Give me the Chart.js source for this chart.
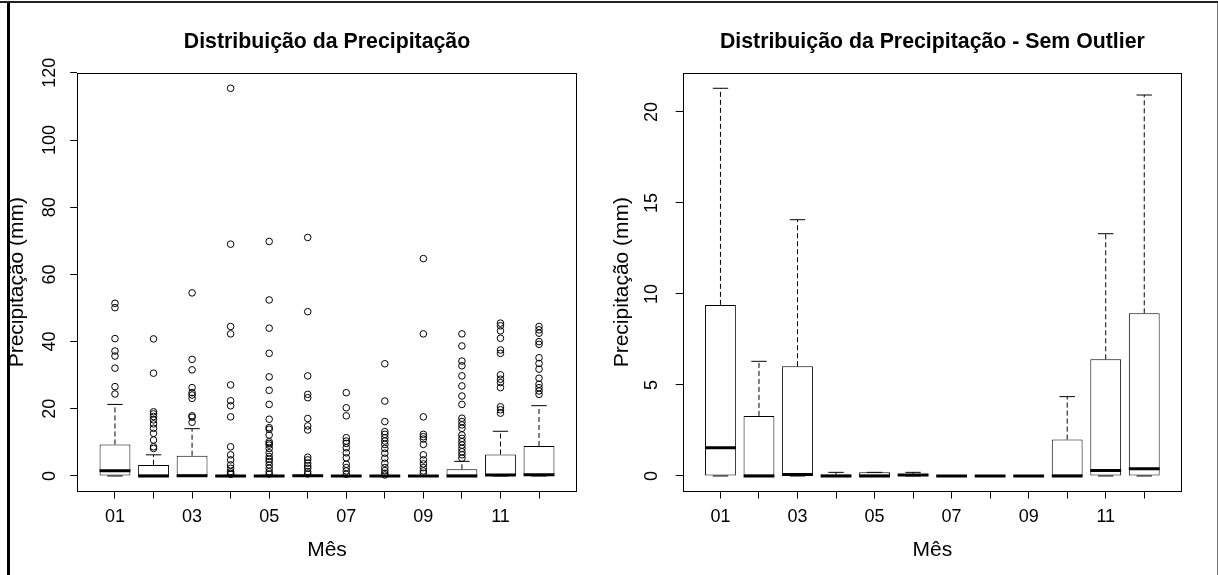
<!DOCTYPE html>
<html lang="pt-BR">
<head>
<meta charset="utf-8">
<title>Distribuição da Precipitação</title>
<script src="https://cdn.jsdelivr.net/npm/chart.js@4.4.1/dist/chart.umd.min.js"></script>
<style>
  html, body { margin: 0; padding: 0; background: #fff; }
  #wrap { position: relative; width: 1218px; height: 575px; overflow: hidden; }
  #wrap canvas { position: absolute; top: 0; }
  #boxAll { left: 0; }
  #boxClean { left: 609px; }
  #frame {
    position: absolute; left: 7px; top: 1px; width: 1207px; height: 600px;
    border-left: 3px solid #000; border-right: 1px solid #777;
    pointer-events: none;
  }
  #topline { position: absolute; left: 0; top: 1px; width: 1218px; height: 2px; background: #222; }
</style>
</head>
<body>
<div id="wrap">
  <canvas id="boxAll" width="609" height="575"></canvas>
  <canvas id="boxClean" width="609" height="575"></canvas>
  <div id="frame"></div>
  <div id="topline"></div>
</div>
<script>
// monthly precipitation boxplots (mm)
const months = ['01', '02', '03', '04', '05', '06', '07', '08', '09', '10', '11', '12'];
const xTickLabels = ['01', '', '03', '', '05', '', '07', '', '09', '', '11', ''];
const yTicksAll = [0, 20, 40, 60, 80, 100, 120];
const yTicksClean = [0, 5, 10, 15, 20];

const lowerWhisker = [0, 0, 0, 0, 0, 0, 0, 0, 0, 0, 0, 0];
const lowerHinge   = [0, 0, 0, 0, 0, 0, 0, 0, 0, 0, 0, 0];
const medians      = [1.55, 0, 0.08, 0, 0, 0.05, 0, 0, 0, 0, 0.3, 0.4];
const upperHinge   = [9.4, 3.3, 6.03, 0.08, 0.2, 0.1, 0, 0, 0, 2.0, 6.41, 8.94];
const upperWhisker = [21.3, 6.3, 14.08, 0.2, 0.2, 0.2, 0, 0, 0, 4.36, 13.31, 20.93];

const outliers = [
  [51.4, 50.1, 40.9, 37.2, 35.7, 32.1, 26.6, 24.4],
  [40.8, 30.6, 19.1, 18.5, 17.7, 16.7, 15.5, 14.2, 12.7, 10.7, 8.7, 8.2],
  [54.5, 34.7, 31.6, 26.3, 24.8, 24.1, 23.1, 17.9, 17.5, 16.0],
  [115.4, 69.0, 44.5, 42.3, 27.1, 22.4, 20.9, 17.6, 8.7, 6.3, 4.8, 3.3, 2.3, 1.3, 0.8, 0.5],
  [69.8, 52.4, 44.0, 36.5, 29.5, 25.5, 21.3, 16.9, 14.4, 13.9, 12.2, 10.2, 9.7, 9.2, 8.2, 6.9, 5.8, 5.0, 4.3, 3.3, 2.3, 1.3, 0.6],
  [71.0, 48.9, 29.8, 24.3, 23.3, 17.1, 14.9, 13.7, 5.6, 4.8, 3.8, 3.0, 2.3, 1.3, 0.6],
  [24.8, 20.3, 17.9, 11.4, 10.4, 9.7, 8.4, 6.9, 5.4, 3.5, 2.5, 1.5, 0.5],
  [33.4, 22.3, 16.2, 13.2, 12.4, 11.4, 10.4, 9.4, 8.2, 6.8, 5.3, 3.8, 2.5, 1.6, 0.8, 0.3],
  [64.7, 42.3, 17.6, 12.4, 11.7, 11.0, 9.4, 6.3, 4.8, 3.6, 2.5, 1.5, 0.8],
  [42.3, 38.7, 34.2, 32.8, 29.8, 26.8, 23.8, 21.3, 17.2, 16.2, 15.2, 14.2, 12.2, 11.2, 10.2, 9.2, 8.2, 7.2, 6.3, 5.3],
  [45.5, 44.7, 43.2, 41.0, 37.5, 36.5, 30.1, 28.8, 27.8, 26.3, 20.6, 19.7, 18.7],
  [44.5, 43.5, 42.5, 40.0, 39.2, 35.2, 33.5, 31.8, 29.1, 27.3, 26.3, 25.3, 24.3]
];

Chart.defaults.font.family = "'Liberation Sans', Arial, sans-serif";
Chart.defaults.color = '#000';

const positions = months.map((m, i) => i + 1);

// half the width (px) of a box of relative width `frac` on the x scale
function halfWidth(chart, frac) {
  const x = chart.scales.x;
  return Math.abs(x.getPixelForValue(1 + frac / 2) - x.getPixelForValue(1));
}

// box outline around the plotting region
const plotFrame = {
  id: 'plotFrame',
  afterDatasetsDraw(chart) {
    const { ctx, chartArea: a } = chart;
    ctx.save();
    ctx.strokeStyle = '#000';
    ctx.lineWidth = 1;
    const l = Math.round(a.left) + 0.5, t = Math.round(a.top) + 0.5;
    const r = Math.round(a.right) - 0.5, b = Math.round(a.bottom) - 0.5;
    ctx.strokeRect(l, t, r - l, b - t);
    ctx.restore();
  }
};

function buildDatasets(showOutliers) {
  const sets = [];
  // medians
  sets.push({
    type: 'scatter', order: 0,
    data: positions.map((x, i) => ({ x, y: medians[i] })),
    pointStyle: 'line', pointBorderColor: '#000', pointBorderWidth: 3,
    pointRadius: c => halfWidth(c.chart, 0.8)
  });
  // whisker caps
  sets.push({
    type: 'scatter', order: 1,
    data: positions.flatMap((x, i) => [{ x, y: upperWhisker[i] }, { x, y: lowerWhisker[i] }]),
    pointStyle: 'line', pointBorderColor: '#000', pointBorderWidth: 1,
    pointRadius: c => halfWidth(c.chart, 0.4)
  });
  // dashed whiskers
  sets.push({
    type: 'line', order: 2,
    data: positions.flatMap((x, i) => [
      { x, y: upperHinge[i] }, { x, y: upperWhisker[i] }, { x, y: null },
      { x, y: lowerHinge[i] }, { x, y: lowerWhisker[i] }, { x, y: null }
    ]),
    borderColor: '#000', borderWidth: 1, borderDash: [5, 3],
    pointRadius: 0, spanGaps: false, fill: false
  });
  if (showOutliers) {
    sets.push({
      type: 'scatter', order: 3,
      data: positions.flatMap((x, i) => outliers[i].map(v => ({ x, y: v }))),
      pointStyle: 'circle', pointRadius: 3.3, pointBorderWidth: 1,
      pointBorderColor: '#000', pointBackgroundColor: 'rgba(0,0,0,0)'
    });
  }
  // boxes (lower to upper hinge)
  sets.push({
    type: 'bar', order: 4,
    data: positions.map((x, i) => ({ x, y: [lowerHinge[i], upperHinge[i]] })),
    backgroundColor: '#fff', borderColor: '#000', borderWidth: 1,
    borderSkipped: false, barPercentage: 0.8, categoryPercentage: 1
  });
  return sets;
}

function makeChart(id, opts) {
  const yRange = opts.dataMax;
  const yPad = 0.04 * yRange;
  return new Chart(document.getElementById(id), {
    type: 'bar',
    data: { datasets: buildDatasets(opts.showOutliers) },
    plugins: [plotFrame],
    options: {
      responsive: false,
      animation: false,
      events: [],
      layout: { padding: { left: 0, right: opts.padRight, top: 0, bottom: 0 } },
      plugins: {
        legend: { display: false },
        tooltip: { enabled: false },
        title: {
          display: true, text: opts.title, fullSize: false, color: '#000',
          font: { size: 21.3, weight: 'bold' },
          padding: { top: 29.2, bottom: 18 }
        }
      },
      scales: {
        x: {
          type: 'linear', min: 0.02, max: 12.98, offset: false,
          afterBuildTicks: s => { s.ticks = positions.map(v => ({ value: v })); },
          afterFit: s => { s.height = 83.5; },
          grid: { drawOnChartArea: false, drawTicks: true, tickLength: 7, tickColor: '#000', offset: false },
          border: { display: false },
          ticks: {
            autoSkip: false, maxRotation: 0, padding: 8, font: { size: 18 },
            callback: (v, i) => xTickLabels[i]
          },
          title: {
            display: true, text: 'Mês', font: { size: 21, lineHeight: 1 },
            padding: { top: 0, bottom: 14.5 }
          }
        },
        y: {
          type: 'linear', min: -yPad, max: yRange + yPad,
          afterBuildTicks: s => { s.ticks = opts.yTicks.map(v => ({ value: v })); },
          afterFit: s => { s.width = opts.axisWidth; },
          grid: { drawOnChartArea: false, drawTicks: true, tickLength: 7, tickColor: '#000' },
          border: { display: false },
          ticks: { minRotation: 90, maxRotation: 90, crossAlign: 'center', padding: opts.tickPad, font: { size: 18 } },
          title: {
            display: true, text: 'Precipitação (mm)', font: { size: 21, lineHeight: 1 },
            padding: { top: opts.titlePad, bottom: 0 }
          }
        }
      }
    }
  });
}

makeChart('boxAll', {
  title: 'Distribuição da Precipitação',
  showOutliers: true,
  dataMax: Math.max(...upperWhisker, ...outliers.flat()),
  yTicks: yTicksAll,
  padRight: 32.2, axisWidth: 77.2, tickPad: 5.2, titlePad: 7
});

makeChart('boxClean', {
  title: 'Distribuição da Precipitação - Sem Outlier',
  showOutliers: false,
  dataMax: Math.max(...upperWhisker),
  yTicks: yTicksClean,
  padRight: 36, axisWidth: 73.7, tickPad: 13.7, titlePad: 3
});
</script>
</body>
</html>
